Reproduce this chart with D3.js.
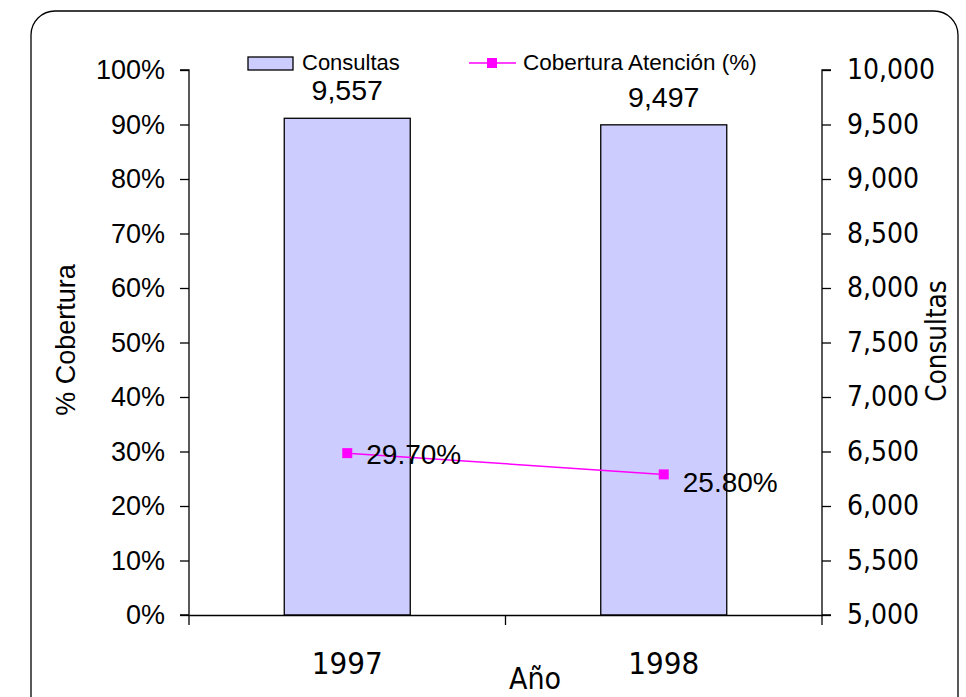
<!DOCTYPE html>
<html><head><meta charset="utf-8">
<script src="https://cdn.jsdelivr.net/npm/d3@7"></script>
<style>html,body{margin:0;padding:0;background:#fff;}</style>
</head><body>
<svg id="c" width="966" height="697"></svg>
<script>
const years = ["1997", "1998"];
const consultas = [9557, 9497];
const cobertura = [29.70, 25.80];
const consultasLabels = ["9,557", "9,497"];
const coberturaLabels = ["29.70%", "25.80%"];
const leftTicks = [0,10,20,30,40,50,60,70,80,90,100];
const rightTicks = [5000,5500,6000,6500,7000,7500,8000,8500,9000,9500,10000];

const svg = d3.select("#c");
const L = 189, R = 822, T = 70, B = 615;
const arial = "Liberation Sans, Arial, sans-serif";
const tahoma = "DejaVu Sans Condensed, DejaVu Sans, sans-serif";

svg.append("rect").attr("x",31).attr("y",11).attr("width",927).attr("height",720)
  .attr("rx",24).attr("fill","#fff").attr("stroke","#000").attr("stroke-width",1.3);

const x = d3.scaleBand().domain(years).range([L,R]);
const yL = d3.scaleLinear().domain([0,100]).range([B,T]);
const yR = d3.scaleLinear().domain([5000,10000]).range([B,T]);

// bars
const bw = 126;
svg.selectAll(".bar").data(years).enter().append("rect")
  .attr("x",(d)=>x(d)+x.bandwidth()/2-bw/2)
  .attr("y",(d,i)=>yR(consultas[i]))
  .attr("width",bw)
  .attr("height",(d,i)=>B-yR(consultas[i]))
  .attr("fill","#CCCCFF").attr("stroke","#000").attr("stroke-width",1.3);

// axes
const gl = svg.append("g").attr("transform",`translate(${L},0)`)
  .call(d3.axisLeft(yL).tickValues(leftTicks).tickFormat(d=>d+"%").tickSize(9).tickPadding(15));
gl.selectAll("text").attr("font-family",arial).attr("font-size",27).attr("fill","#000");
const gr = svg.append("g").attr("transform",`translate(${R},0)`)
  .call(d3.axisRight(yR).tickValues(rightTicks).tickFormat(d3.format(",")).tickSize(9).tickPadding(16));
gr.selectAll("text").attr("font-family",tahoma).attr("font-size",28).attr("fill","#000");
const gx = svg.append("g").attr("transform",`translate(0,${B})`)
  .call(d3.axisBottom(x).tickSize(0).tickPadding(37));
gx.selectAll("text").attr("font-family",tahoma).attr("font-size",31).attr("fill","#000");
// category boundary ticks
svg.selectAll(".bt").data([L, x(years[1]), R]).enter().append("line")
  .attr("x1",d=>d).attr("x2",d=>d).attr("y1",B).attr("y2",B+10).attr("stroke","#000").attr("stroke-width",1.3);
[gl,gr,gx].forEach(g=>{g.selectAll("path,line").attr("stroke","#000").attr("stroke-width",1.3);g.select(".domain").attr("stroke","#000");});
gl.select(".domain").attr("d",`M-9,${T}H0V${B}H-9`);
gr.select(".domain").attr("d",`M9,${T}H0V${B}H9`);

// bar labels
svg.selectAll(".bl").data(years).enter().append("text")
  .attr("x",d=>x(d)+x.bandwidth()/2).attr("y",(d,i)=>yR(consultas[i])-18)
  .attr("text-anchor","middle").attr("font-family",arial).attr("font-size",28.5)
  .text((d,i)=>consultasLabels[i]);

// line
const line = d3.line().x((d,i)=>x(years[i])+x.bandwidth()/2).y(d=>yL(d));
svg.append("path").datum(cobertura).attr("d",line).attr("fill","none").attr("stroke","#FF00FF").attr("stroke-width",1.5);
svg.selectAll(".mk").data(cobertura).enter().append("rect")
  .attr("x",(d,i)=>x(years[i])+x.bandwidth()/2-5).attr("y",d=>yL(d)-5)
  .attr("width",10).attr("height",10).attr("fill","#FF00FF");
const ptLabelDy = [11, 17.5];
svg.selectAll(".pl").data(cobertura).enter().append("text")
  .attr("x",(d,i)=>x(years[i])+x.bandwidth()/2+19).attr("y",(d,i)=>yL(d)+ptLabelDy[i])
  .attr("font-family",arial).attr("font-size",28).text((d,i)=>coberturaLabels[i]);

// axis titles
svg.append("text").attr("transform","translate(75,340) rotate(-90)").attr("text-anchor","middle")
  .attr("font-family",arial).attr("font-size",27).text("% Cobertura");
svg.append("text").attr("transform","translate(946,341) rotate(-90)").attr("text-anchor","middle")
  .attr("font-family",tahoma).attr("font-size",27.5).text("Consultas");
svg.append("text").attr("x",535).attr("y",689).attr("text-anchor","middle")
  .attr("font-family",tahoma).attr("font-size",30).text("Año");

// legend
svg.append("rect").attr("x",248).attr("y",57).attr("width",45).attr("height",13)
  .attr("fill","#CCCCFF").attr("stroke","#000").attr("stroke-width",1.3);
svg.append("text").attr("x",302).attr("y",70).attr("font-family",arial).attr("font-size",22).text("Consultas");
svg.append("line").attr("x1",469).attr("x2",516).attr("y1",63).attr("y2",63).attr("stroke","#FF00FF").attr("stroke-width",1.5);
svg.append("rect").attr("x",487).attr("y",58).attr("width",10).attr("height",10).attr("fill","#FF00FF");
svg.append("text").attr("x",523).attr("y",70).attr("font-family",arial).attr("font-size",22.5).text("Cobertura Atención (%)");
</script>
</body></html>
